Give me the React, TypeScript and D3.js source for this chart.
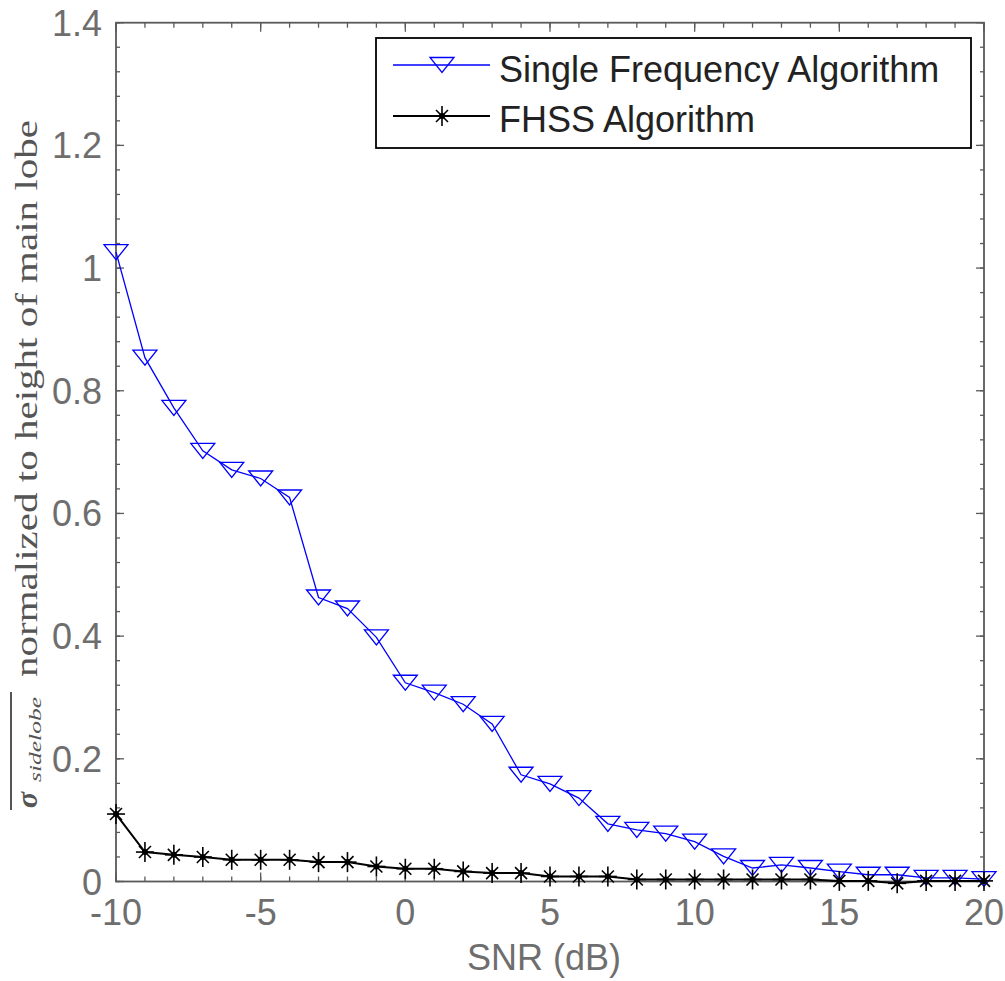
import React from "react";
import * as d3 from "d3";

const snr = [-10,-9,-8,-7,-6,-5,-4,-3,-2,-1,0,1,2,3,4,5,6,7,8,9,10,11,12,13,14,15,16,17,18,19,20];
const singleFreq = [1.026,0.854,0.772,0.702,0.671,0.657,0.626,0.463,0.445,0.398,0.324,0.308,0.289,0.257,0.174,0.159,0.136,0.094,0.084,0.078,0.065,0.041,0.022,0.027,0.022,0.016,0.011,0.011,0.006,0.006,0.004];
const fhss = [0.110,0.048,0.0435,0.040,0.0354,0.0354,0.0354,0.0316,0.0316,0.0245,0.0208,0.0208,0.0164,0.0137,0.0137,0.0082,0.0082,0.0082,0.0033,0.0033,0.0033,0.0033,0.0033,0.0033,0.0033,0.001,0.001,-0.003,0.001,0.001,0.001];
const xTicks = [-10,-5,0,5,10,15,20];
const yTicks = [0,0.2,0.4,0.6,0.8,1,1.2,1.4];
const seriesNames = ["Single Frequency Algorithm","FHSS Algorithm"];

const L = 116, R = 984, T = 22.7, B = 881.5;
const AX = "#5a5a5a";

export default function App() {
  const x = d3.scaleLinear().domain([-10, 20]).range([L, R]);
  const y = d3.scaleLinear().domain([0, 1.4]).range([B, T]);
  const line = d3.line<number>().x((_, i) => x(snr[i])).y((v) => y(v));
  const minorX = d3.range(-10, 20.001, 1);
  const minorY = d3.range(0, 1.4001, 0.04);
  const tri = (cx: number, cy: number, k: string) => (
    <path key={k} d={`M${cx-12},${cy-7.5}L${cx+12},${cy-7.5}L${cx},${cy+7.5}Z`} fill="none" stroke="#0000ff" strokeWidth={1.3} />
  );
  const star = (cx: number, cy: number, k: string) => (
    <g key={k} stroke="#000" strokeWidth={1.6}>
      <line x1={cx} y1={cy-10} x2={cx} y2={cy+10} />
      <line x1={cx-9} y1={cy} x2={cx+9} y2={cy} />
      <line x1={cx-6} y1={cy-6} x2={cx+6} y2={cy+6} />
      <line x1={cx-6} y1={cy+6} x2={cx+6} y2={cy-6} />
      <circle cx={cx} cy={cy} r={3} fill="#000" stroke="none" />
    </g>
  );
  const fmt = (v: number) => (v === 0 ? "0" : v === 1 ? "1" : v.toFixed(1));
  return (
    <svg width={1005} height={981} style={{ position: "absolute", left: 0, top: 0, background: "#fff" }} fontFamily="'Liberation Sans', Arial, sans-serif">
      <rect x={0} y={0} width={1005} height={981} fill="#fff" />
      {minorX.map((v, i) => (
        <g key={"mx" + i} stroke={AX} strokeWidth={1.3}>
          <line x1={x(v)} y1={B} x2={x(v)} y2={B - 5} />
          <line x1={x(v)} y1={T} x2={x(v)} y2={T + 5} />
        </g>
      ))}
      {minorY.map((v, i) => (
        <g key={"my" + i} stroke={AX} strokeWidth={1.3}>
          <line x1={L} y1={y(v)} x2={L + 4} y2={y(v)} />
          <line x1={R} y1={y(v)} x2={R - 4} y2={y(v)} />
        </g>
      ))}
      {xTicks.map((v) => (
        <g key={"xt" + v} stroke={AX} strokeWidth={1.3}>
          <line x1={x(v)} y1={B} x2={x(v)} y2={B - 9} />
          <line x1={x(v)} y1={T} x2={x(v)} y2={T + 9} />
        </g>
      ))}
      {yTicks.map((v) => (
        <g key={"yt" + v} stroke={AX} strokeWidth={1.3}>
          <line x1={L} y1={y(v)} x2={L + 8} y2={y(v)} />
          <line x1={R} y1={y(v)} x2={R - 8} y2={y(v)} />
        </g>
      ))}
      <rect x={L} y={T} width={R - L} height={B - T} fill="none" stroke={AX} strokeWidth={1.8} />
      {xTicks.map((v) => (
        <text key={"xl" + v} x={x(v)} y={925} textAnchor="middle" fontSize={36} fill="#6e6e6e">{v}</text>
      ))}
      {yTicks.map((v) => (
        <text key={"yl" + v} x={102} y={y(v) + 13} textAnchor="end" fontSize={36} fill="#6e6e6e">{fmt(v)}</text>
      ))}
      <text x={544} y={970} textAnchor="middle" fontSize={36} fill="#6e6e6e">SNR (dB)</text>
      <g transform="translate(37,0) rotate(-90)">
        <text x={-677} y={0} fontFamily="'Liberation Serif', 'Times New Roman', serif" fontSize={32} fill="#555" textLength={557} lengthAdjust="spacingAndGlyphs">normalized to height of main lobe</text>
        <text x={-808} y={0} fontFamily="'Liberation Serif', 'Times New Roman', serif" fontSize={30} fontStyle="italic" fontWeight="bold" fill="#555">σ</text>
        <text x={-782} y={4} fontFamily="'Liberation Serif', 'Times New Roman', serif" fontSize={17} fontStyle="italic" fill="#555" textLength={85} lengthAdjust="spacingAndGlyphs">sidelobe</text>
        <line x1={-810} y1={-26} x2={-692} y2={-26} stroke="#555" strokeWidth={2} />
      </g>
      <path d={line(singleFreq) || ""} fill="none" stroke="#0000ff" strokeWidth={1.3} />
      {singleFreq.map((v, i) => tri(x(snr[i]), y(v), "t" + i))}
      <path d={line(fhss) || ""} fill="none" stroke="#000" strokeWidth={2} />
      {fhss.map((v, i) => star(x(snr[i]), y(v), "s" + i))}
      <rect x={376} y={38} width={595} height={110} fill="#fff" stroke="#000" strokeWidth={1.8} />
      <line x1={393} y1={65} x2={490} y2={65} stroke="#0000ff" strokeWidth={1.3} />
      {tri(442, 65, "lt")}
      <text x={499} y={82} fontSize={36} fill="#222">{seriesNames[0]}</text>
      <line x1={393} y1={116} x2={490} y2={116} stroke="#000" strokeWidth={2} />
      {star(442, 116, "ls")}
      <text x={499} y={132} fontSize={36} fill="#222">{seriesNames[1]}</text>
    </svg>
  );
}
